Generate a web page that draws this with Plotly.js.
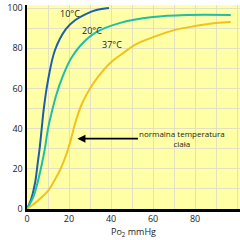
<!DOCTYPE html>
<html><head><meta charset="utf-8">
<script src="https://cdn.plot.ly/plotly-3.0.1.min.js"></script>
<style>html,body{margin:0;padding:0;background:#fff}#c{width:240px;height:240px}</style>
</head><body><div id="c"></div>
<script>
const x10 = [0, 2, 4, 5, 6, 7, 8, 10, 13.3, 18.5, 23, 28, 33, 39];
const y10 = [0, 5, 14, 22, 30, 40, 50, 64, 79, 89.5, 94, 97, 99, 100];
const x20 = [0, 3, 5, 7, 8.5, 10, 11.5, 14, 17, 21, 26, 33, 44, 60, 76, 97];
const y20 = [0, 6, 13, 22, 30, 40, 47, 57, 66, 75, 82, 88, 92.5, 95.5, 96.5, 96.5];
const x37 = [0, 5, 10, 13, 16, 19, 21, 23, 26, 30, 34, 40, 45, 52, 60, 70, 80, 90, 97];
const y37 = [0, 4, 9, 14, 20, 28, 35, 43, 52, 60, 66, 73, 77, 82, 85.5, 89, 91, 92.5, 93];
const seriesNames = ["10°C", "20°C", "37°C"];
const xTicks = [0, 20, 40, 60, 80, 100];
const yTicks = [0, 20, 40, 60, 80, 100];
const note = "normalna temperatura<br>ciała";
const xTitle = "Po<sub>2</sub> mmHg";

const font = {family: "Open Sans, Liberation Sans, sans-serif", size: 9, color: "#222"};
const mk = (x, y, c, n) => ({x, y, name: n, type: "scatter", mode: "lines",
  line: {color: c, width: 2, shape: "spline", smoothing: 1}, hoverinfo: "none"});
const data = [mk(x10, y10, "#1b5fa6", seriesNames[0]), mk(x20, y20, "#1fbea6", seriesNames[1]), mk(x37, y37, "#f0c21a", seriesNames[2])];
const grid = "#e4e0c2";
const layout = {
  width: 240, height: 240, showlegend: false,
  margin: {l: 27, r: 0, t: 5, b: 31},
  paper_bgcolor: "#ffffff", plot_bgcolor: "#ffffa6",
  font: font,
  xaxis: {range: [0, 101.4], tickvals: xTicks, ticktext: xTicks.map(String),
    gridcolor: grid, gridwidth: 1, zeroline: false,
    showline: true, linecolor: "#000", linewidth: 2.5, ticks: "", tickfont: font,
    minor: {dtick: 10, showgrid: true, gridcolor: grid, gridwidth: 1},
    title: {text: xTitle, font: {family: font.family, size: 9, color: "#222"}, standoff: 4}},
  yaxis: {range: [0, 101.5], tickvals: yTicks, ticktext: yTicks.map(String),
    gridcolor: grid, gridwidth: 1, zeroline: false,
    showline: true, linecolor: "#000", linewidth: 2.5, ticks: "", tickfont: font,
    minor: {dtick: 10, showgrid: true, gridcolor: grid, gridwidth: 1}},
  annotations: [
    {x: 20.5, y: 97.5, text: seriesNames[0], showarrow: false, font: font, xanchor: "center"},
    {x: 31, y: 89, text: seriesNames[1], showarrow: false, font: font, xanchor: "center"},
    {x: 40.5, y: 82, text: seriesNames[2], showarrow: false, font: font, xanchor: "center"},
    {x: 24, y: 35, ax: 74, ay: 35, axref: "x", ayref: "y", text: note, showarrow: true,
      arrowhead: 2, arrowsize: 1, arrowwidth: 1.6, arrowcolor: "#000",
      font: {family: font.family, size: 8, color: "#222"}, align: "center"}
  ]
};
Plotly.newPlot("c", data, layout, {staticPlot: true});
</script></body></html>
